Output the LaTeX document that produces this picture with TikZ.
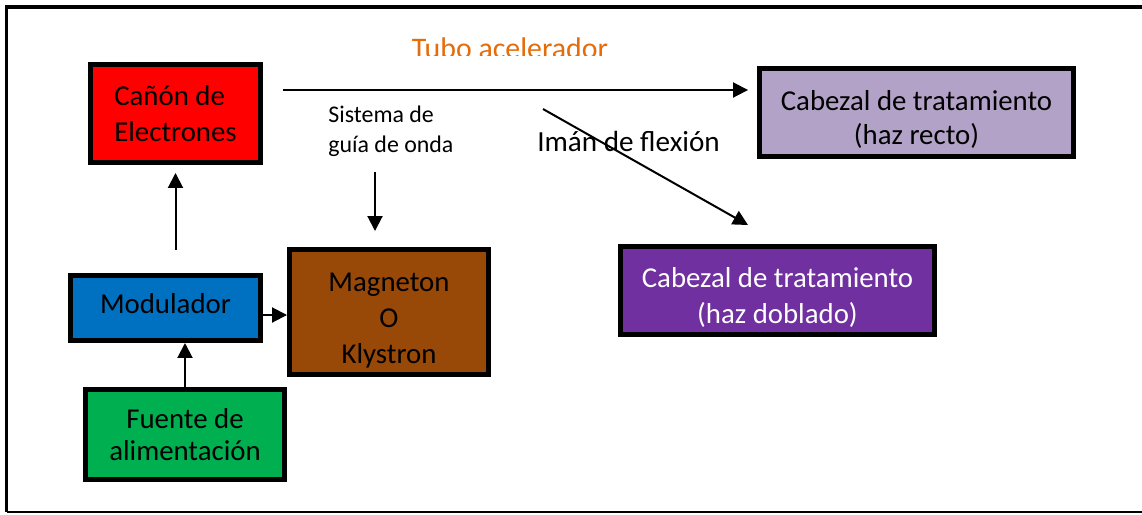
\documentclass[tikz,border=0pt]{standalone}
\usepackage{fontspec}
\setmainfont{Carlito}
\usepackage[HTML]{xcolor}
\usetikzlibrary{positioning, arrows, arrows.meta}
\definecolor{canonred}{HTML}{FF0000}
\definecolor{rectolila}{HTML}{B3A2C7}
\definecolor{dobladomorado}{HTML}{7030A0}
\definecolor{modazul}{HTML}{0070C0}
\definecolor{magmarron}{HTML}{984807}
\definecolor{fuenteverde}{HTML}{00B050}
\definecolor{tubonaranja}{HTML}{E46C0A}
\newcommand{\bajo}[1]{\rule{0pt}{#1}}

\begin{document}
\begin{tikzpicture}[x=0.02cm, y=-0.02cm,
  box/.style={draw=black, line width=0.1cm, font=\fontsize{16.4}{20.5}\selectfont, align=center, inner sep=0pt},
  arr/.style={-{Triangle[length=0.3cm,width=0.3cm]}, line width=0.04cm},
  lbl/.style={inner sep=0pt}]
\useasboundingbox (0,0) rectangle (1142,514);
\draw[line width=0.08cm] (1142,7) -- (6.5,7) -- (6.5,512);
\draw[line width=0.03cm] (6.5,512) -- (1142,512);

\node[box, fill=canonred, minimum width=3.4cm, minimum height=1.96cm, align=left] (canon) at (175.5,113.5) {Cañón de\\Electrones};
\node[box, fill=rectolila, minimum width=6.28cm, minimum height=1.76cm, font=\fontsize{16.4}{19.5}\selectfont] (recto) at (916.5,112.5) {\bajo{19pt}Cabezal de tratamiento\\(haz recto)};
\node[box, fill=dobladomorado, text=white, minimum width=6.28cm, minimum height=1.76cm] (doblado) at (777.5,290.5) {\bajo{19pt}Cabezal de tratamiento\\(haz doblado)};
\node[box, fill=modazul, minimum width=3.8cm, minimum height=1.3cm] (modulador) at (165.5,308) {Modulador\rule[-5pt]{0pt}{5pt}};
\node[box, fill=magmarron, minimum width=3.98cm, minimum height=2.5cm] (magneton) at (389,312) {\bajo{20pt}Magneton\\O\\Klystron};
\node[box, fill=fuenteverde, minimum width=3.98cm, minimum height=1.8cm, font=\fontsize{16.4}{18}\selectfont] (fuente) at (185,434.5) {Fuente de\\alimentación};

\begin{scope}
\clip (380,20) rectangle (640,55.5);
\node[lbl, text=tubonaranja, font=\fontsize{17}{20}\selectfont, anchor=base] (tubo) at (510,58) {Tubo acelerador};
\end{scope}
\node[lbl, font=\fontsize{13.6}{17}\selectfont, align=left, anchor=north west] (guia) at (328,105.5) {Sistema de\\guía de onda};
\node[lbl, font=\fontsize{16.6}{20}\selectfont, anchor=base] (iman) at (628.5,151) {Imán de flexión};

\coordinate (tuboA) at (283,90);
\coordinate (flexA) at (543,109);
\coordinate (flexB) at (748,225);
\coordinate (guiaA) at (375,172);
\draw[arr, shorten >=0.18cm] (tuboA) -- (tuboA -| recto.west);
\draw[arr] (flexA) -- (flexB);
\draw[arr, shorten >=0.32cm] (guiaA) -- (guiaA |- magneton.north);
\draw[arr, shorten <=0.46cm, shorten >=0.16cm] (canon.south |- modulador.north) -- (canon.south);
\draw[arr] ([yshift=-0.14cm]modulador.east) -- ([yshift=-0.14cm]modulador.east -| magneton.west);
\draw[arr] (fuente.north) -- (fuente.north |- modulador.south);
\end{tikzpicture}
\end{document}
